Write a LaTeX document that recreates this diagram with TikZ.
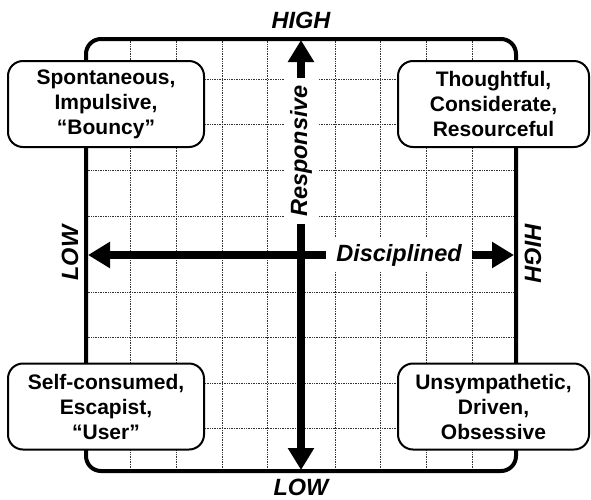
\documentclass[tikz,border=0pt]{standalone}
\usepackage{fontspec}
\setmainfont{Liberation Sans}
\usetikzlibrary{arrows.meta}

\begin{document}
\begin{tikzpicture}[
      x=1pt, y=-1pt,
      trait/.style={rectangle,rounded corners=15pt,draw,line width=2pt,fill=white,
        minimum height=86pt,align=center,inner sep=0pt,
        font=\fontsize{21}{25}\selectfont\bfseries},
      axislabel/.style={font=\fontsize{23.5}{26}\selectfont\bfseries\itshape,inner sep=0pt},
      axisname/.style={fill=white,inner xsep=8pt,inner ysep=6pt,
        font=\fontsize{23.5}{26}\selectfont\bfseries\itshape},
      gridline/.style={densely dotted,line width=0.7pt,black!80},
      axis/.style={line width=8pt,{Triangle[length=22pt,width=25pt]}-{Triangle[length=22pt,width=25pt]}}
    ]
    \useasboundingbox (0,0) rectangle (591,499);

    % grid
    \foreach \gx in {130,176,222,267,335,380,426,472}
      \draw[gridline] (\gx,39) -- (\gx,471);
    \foreach \gy in {79,124,170,216,292,337,383,428}
      \draw[gridline] (86,\gy) -- (516,\gy);

    \draw[line width=4pt,rounded corners=15pt] (86,39) rectangle (516,471);

    % axes
    \coordinate (vtop) at (301,40);
    \coordinate (vbot) at (301,470);
    \coordinate (hleft) at (88,255);
    \coordinate (hright) at (514,255);
    \draw[axis] (vbot) -- (vtop);
    \draw[axis] (hleft) -- (hright);

    \node[axisname,rotate=90,inner xsep=7pt] (resp) at (301,151) {Responsive};
    \node[axisname,inner xsep=10pt] (disc) at (399,255) {Disciplined};

    \node[axislabel] (vhigh) at (301,20) {HIGH};
    \node[axislabel] (vlow) at (301,487) {LOW};
    \node[axislabel,rotate=90] (hlow) at (70,253) {LOW};
    \node[axislabel,rotate=-90] (hhigh) at (533,253) {HIGH};

    % quadrants
    \node[trait,minimum width=196pt] (spont) at (106,104) {Spontaneous,\\Impulsive,\\“Bouncy”};
    \node[trait,minimum width=191pt] (thought) at (493.5,104) {Thoughtful,\\Considerate,\\Resourceful};
    \node[trait,minimum width=196pt] (self) at (106,406.5) {Self-consumed,\\Escapist,\\“User”};
    \node[trait,minimum width=191pt] (unsym) at (493.5,406.5) {Unsympathetic,\\Driven,\\Obsessive};
  \end{tikzpicture}
\end{document}
